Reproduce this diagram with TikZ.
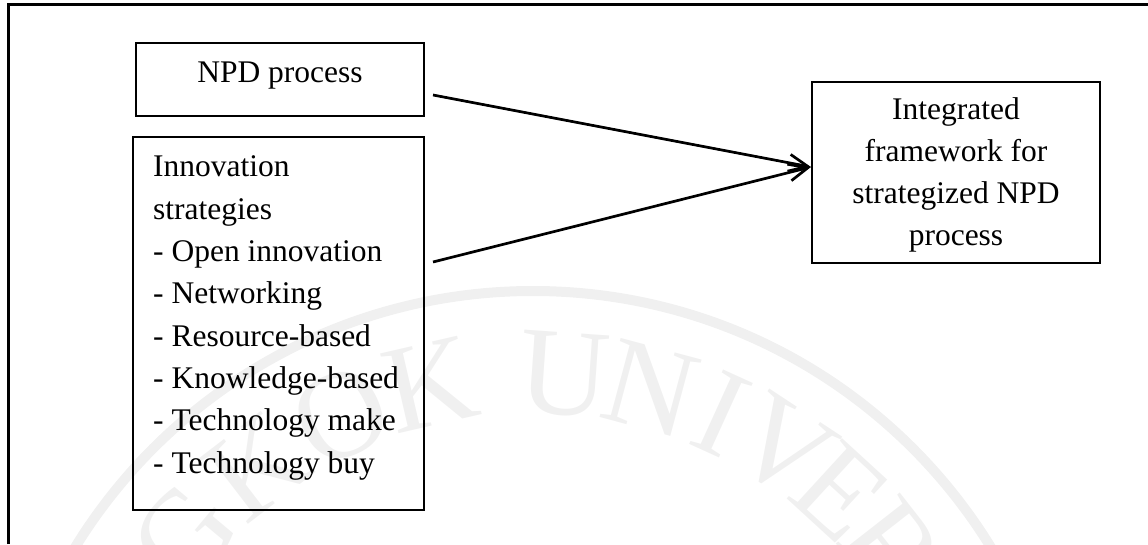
\documentclass[tikz,border=0pt]{standalone}
\usepackage{fontspec}
\setmainfont{Liberation Serif}
\usetikzlibrary{arrows.meta,calc}
\definecolor{seal}{gray}{0.94}
\tikzset{
  box/.style={draw=black, line width=2pt, inner sep=0pt},
  txt/.style={inner sep=0pt, font=\fontsize{31.5}{42.3}\selectfont},
  link/.style={line width=2.7pt, -{Straight Barb[length=19pt,width=17pt,line width=2.7pt]}},
  sealtext/.style={text=seal, inner sep=0pt, font=\fontsize{125}{125}\selectfont},
  frame/.style={line width=3pt},
}
\begin{document}
\begin{tikzpicture}[x=1pt,y=1pt]
\useasboundingbox (0,0) rectangle (1148,544);

% faint university seal in the background
\begin{scope}
  \clip (0,0) rectangle (1148,544);
  \coordinate (sealc) at (533,-284);
  \draw[seal, line width=10pt] (sealc) circle[radius=537];
  \foreach \ch/\a [count=\i] in {B/-83, A/-73, N/-62, G/-50, K/-37.5, O/-25, K/-13,
      U/4, N/15, I/24.5, V/33.4, E/42.5, R/52, S/61, I/69, T/77, Y/86}
    \node[sealtext, rotate={-(\a)}] (seal-\i) at ($(sealc)+({90-(\a)}:455)$) {\ch};
\end{scope}

% page frame
\coordinate (fbl) at (8,0);
\coordinate (ftl) at (8,539);
\coordinate (ftr) at (1148,539);
\draw[frame] (fbl) -- (ftl) -- (ftr);

% boxes
\node[box, minimum width=288, minimum height=73] (npd) at (280,464.5) {};
\node[box, minimum width=291, minimum height=373] (inno) at (278.5,220.5) {};
\node[box, minimum width=288, minimum height=181] (integ) at (956,371.5) {};

% box texts
\node[txt, anchor=base] (npd-t) at (280,461) {NPD process};

\foreach \t [count=\i] in {Innovation, strategies, - Open innovation, - Networking,
    - Resource-based, - Knowledge-based, - Technology make, - Technology buy}
  \node[txt, anchor=base west] (inno-\i) at (153,{367-42.3*(\i-1)}) {\t};

\foreach \t [count=\i] in {Integrated, framework for, strategized NPD, process}
  \node[txt, anchor=base] (integ-\i) at (956,{424-42*(\i-1)}) {\t};

% connectors
\draw[link] ($(npd.east)+(8,-15.5)$) -- ($(integ.west)+(0,5.5)$);
\draw[link] ($(inno.east)+(8,61.5)$) -- ($(integ.west)+(0,5.5)$);
\end{tikzpicture}
\end{document}
